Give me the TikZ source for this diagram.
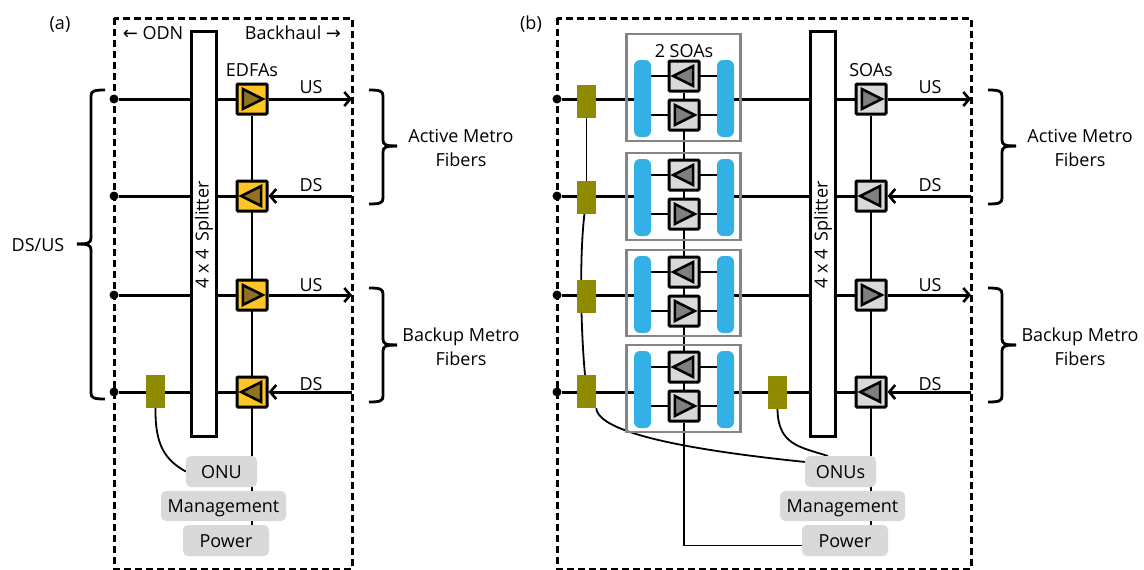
\documentclass[tikz,border=0pt]{standalone}
\usepackage{fontspec}
\setmainfont{Open Sans}
\newfontfamily\arrowfont{DejaVu Sans}
\usetikzlibrary{arrows.meta,backgrounds,shapes.geometric}
\definecolor{edfabox}{HTML}{FFC425}
\definecolor{edfatri}{HTML}{8F7320}
\definecolor{soabox}{HTML}{D9D9D9}
\definecolor{soatri}{HTML}{7F7F7F}
\definecolor{tapgreen}{HTML}{8F8B00}
\definecolor{barblue}{HTML}{33B0E5}
\definecolor{framegray}{HTML}{858585}
% brace with its point on the side given by the sign of #5
\newcommand{\brcdraw}[5]{%
    \draw[brc] (#1-#5*14,#2) .. controls (#1-#5*3,#2) and (#1,#2+1) .. (#1,#2+6)
        -- (#1,#3-6) .. controls (#1,#3-1) and (#1+#5*3,#3) .. (#1+#5*14,#3);
    \draw[brc] (#1-#5*14,#4) .. controls (#1-#5*3,#4) and (#1,#4-1) .. (#1,#4-6)
        -- (#1,#3+6) .. controls (#1,#3+1) and (#1+#5*3,#3) .. (#1+#5*14,#3);
}
\begin{document}
\begin{tikzpicture}[
            x=1pt, y=-1pt,
            every node/.style={inner sep=0pt, font=\fontsize{18}{24}\selectfont},
            dashbox/.style={draw, line width=3pt, dash pattern=on 7pt off 4pt},
            fiber/.style={line width=3pt},
            thin line/.style={line width=1.8pt},
            tip/.style={-{Straight Barb[length=6pt,width=14pt,line width=2.6pt]}},
            brc/.style={line width=2.8pt},
            dotn/.style={circle, fill=black, minimum size=9pt},
            splitter/.style={draw, fill=white, line width=3pt, minimum width=25pt, minimum height=405pt},
            ampbox/.style={draw, line width=3pt, minimum size=30pt, rounded corners=1pt},
            ampr/.style={draw, line width=2.6pt, isosceles triangle, isosceles triangle stretches,
                minimum width=20pt, minimum height=20pt, xshift=-3pt},
            ampl/.style={ampr, shape border rotate=180, xshift=6pt},
            tap/.style={fill=tapgreen, minimum width=19pt, minimum height=33pt},
            ctrl/.style={fill=soabox, rounded corners=5pt, minimum height=31pt, text height=13pt, text depth=0pt},
            module/.style={draw=framegray, line width=2.6pt, minimum width=114pt},
            bar/.style={fill=barblue, rounded corners=6pt, minimum width=17pt, minimum height=77pt}
        ]
        \useasboundingbox (0,0) rectangle (1144,570);
        % parts that are the same in both panels
        \foreach \p/\ox/\boxcol/\tricol/\onutext/\amptext in {a/0/edfabox/edfatri/ONU/EDFAs, b/619/soabox/soatri/ONUs/SOAs} {
            \node[splitter] (\p split) at (\ox+204,234) {};
            \node[rotate=90] (\p splittext) at (\ox+204,235) {4 x 4\hspace{8pt}Splitter};
            \foreach \nm/\ypos/\dirn in {1/99/ampr, 2/196/ampl, 3/295/ampr, 4/392/ampl} {
                \node[ampbox, fill=\boxcol] (\p A\nm) at (\ox+252,\ypos) {};
                \node[\dirn, fill=\tricol] (\p T\nm) at (\ox+252,\ypos) {};
                \coordinate (\p E\nm) at (\ox+352,\ypos);
            }
            \node[ctrl, minimum width=71pt] (\p onu) at (\ox+221.5,471.5) {\onutext};
            \node[ctrl, minimum width=125pt, minimum height=30pt] (\p mgmt) at (\ox+223.5,506) {Management};
            \node[ctrl, minimum width=86pt] (\p power) at (\ox+226,540.5) {Power};
            \node (\p amplabel) at (\ox+252,70) {\amptext};
            \node (\p us1) at (\ox+311,87) {US};
            \node (\p ds2) at (\ox+311,185) {DS};
            \node (\p us3) at (\ox+311,285) {US};
            \node (\p ds4) at (\ox+311,384) {DS};
            \node[align=center] (\p active) at (\ox+461,148) {Active Metro\\Fibers};
            \node[align=center] (\p backup) at (\ox+461,347) {Backup Metro\\Fibers};
            \brcdraw{\ox+383}{90}{146}{204}{1}
            \brcdraw{\ox+383}{288}{345}{402}{1}
        }
        % panel a
        \node (alabel) at (60,24) {(a)};
        \node (odn) at (153,33) {{\arrowfont ←} ODN};
        \node (backhaul) at (293,33) {Backhaul {\arrowfont →}};
        \node (dsus) at (38,245) {DS/US};
        \brcdraw{91}{90}{244}{399}{-1}
        \foreach \nm/\ypos in {1/99, 2/196, 3/295, 4/392}
            \node[dotn] (aD\nm) at (114,\ypos) {};
        \node[tap] (atap) at (155.5,391.5) {};
        % panel b
        \node (blabel) at (531,24) {(b)};
        \foreach \nm/\ypos in {1/99, 2/196, 3/295, 4/392}
            \node[dotn] (bD\nm) at (557,\ypos) {};
        \node[tap] (bG1) at (586.5,101.5) {};
        \node[tap] (bG2) at (586.5,197.5) {};
        \node[tap] (bG3) at (586.5,296.5) {};
        \node[tap] (bG4) at (586.5,391.5) {};
        \node[tap] (bG5) at (777.5,392.5) {};
        \foreach \nm/\fy/\fh/\ytop/\ybot/\ybar in {1/87.5/107/76/115/98.5, 2/196.5/87/175/214/197.5, 3/293/86/272/311/294.5, 4/388.5/87/367/406/389.5} {
            \node[module, minimum height=\fh pt] (bF\nm) at (683.5,\fy) {};
            \node[bar] (bL\nm) at (642.5,\ybar) {};
            \node[bar] (bR\nm) at (725.5,\ybar) {};
            \node[ampbox, fill=soabox] (bUp\nm) at (684,\ytop) {};
            \node[ampl, fill=soatri] (bUpT\nm) at (684,\ytop) {};
            \node[ampbox, fill=soabox] (bDn\nm) at (684,\ybot) {};
            \node[ampr, fill=soatri] (bDnT\nm) at (684,\ybot) {};
        }
        \node (soas) at (684,51) {2 SOAs};
        \begin{scope}[on background layer]
            \draw[dashbox] (114,18) rectangle (352,569);
            \draw[dashbox] (557,18) rectangle (971,569);
            % fibers of panel a
            \foreach \nm in {1,2,3,4}
                \draw[fiber] (aD\nm) -- (aA\nm);
            \draw[fiber, tip] (aA1) -- (aE1);
            \draw[fiber, tip] (aE2) -- (aA2.east);
            \draw[fiber, tip] (aA3) -- (aE3);
            \draw[fiber, tip] (aE4) -- (aA4.east);
            % fibers of panel b
            \foreach \nm in {1,2,3,4} {
                \draw[fiber] (bD\nm) -- (bL\nm.west |- bD\nm);
                \draw[fiber] (bR\nm.east |- bD\nm) -- (bA\nm);
                \draw[thin line] (bL\nm.east |- bUp\nm) -- (bR\nm.west |- bUp\nm);
                \draw[thin line] (bL\nm.east |- bDn\nm) -- (bR\nm.west |- bDn\nm);
            }
            \draw[fiber, tip] (bA1) -- (bE1);
            \draw[fiber, tip] (bE2) -- (bA2.east);
            \draw[fiber, tip] (bA3) -- (bE3);
            \draw[fiber, tip] (bE4) -- (bA4.east);
            % control lines
            \draw[thin line] (aA1) -- (aA1 |- apower.north);
            \draw[thin line] (bA1) -- (bA1 |- bpower.north);
            \coordinate (bpowerin) at ([yshift=-5pt]bpower.west);
            \draw[thin line] (bUp1) -- (bDn4) -- (bDn4 |- bpowerin) -- (bpowerin);
            \draw[thin line] (atap.south) .. controls (155,445) and (165,460) .. (aonu.west);
            \draw[thin line] (bG1) -- (bG2);
            \draw[thin line] (bG2) .. controls (580,250) and (580,320) .. (bG4);
            \draw[thin line] (bG4.south east) .. controls (598,425) and (640,445) .. (bonu.165);
            \draw[thin line] (bG5.south) .. controls (778,445) and (800,447) .. (828,456);
        \end{scope}
        \end{tikzpicture}
\end{document}
